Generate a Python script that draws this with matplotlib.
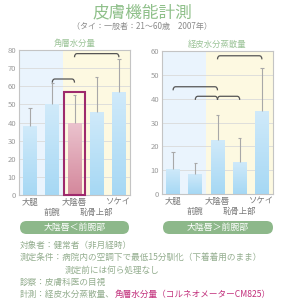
import matplotlib
matplotlib.use("Agg")
import matplotlib.pyplot as plt
import numpy as np
from matplotlib.patches import FancyBboxPatch, Rectangle, PathPatch
from matplotlib.path import Path

plt.rcParams['font.family'] = ['Noto Sans CJK JP', 'DejaVu Sans']

# ---- data ----
sites = ['大腿', '前腕', '大陰唇', '恥骨上部', 'ソケイ']
water_mean = [38, 50, 40, 46, 57]
water_upper = [48, 62, 55, 65, 75]
tewl_mean = [10.5, 8.5, 22.5, 13.5, 35]
tewl_upper = [17.5, 13, 33, 23.5, 53]
water_brackets = [(1, 2, 64), (2, 4, 78)]
tewl_brackets = [(0, 2, 45), (1, 2, 41), (2, 3, 41), (2, 4, 58)]
water_ticks = [0, 10, 20, 30, 40, 50, 60, 70, 80]
tewl_ticks = [0, 10, 20, 30, 40, 50, 60]
highlight = 2

W, H = 283, 300
fig = plt.figure(figsize=(W / 100, H / 100), dpi=100)
fig.patch.set_facecolor('white')

# overlay axes in pixel coordinates
bg = fig.add_axes([0, 0, 1, 1], zorder=-1)
bg.set_xlim(0, W)
bg.set_ylim(H, 0)
bg.axis('off')

def px_axes(x0, y0, x1, y1):
    return fig.add_axes([x0 / W, 1 - y1 / H, (x1 - x0) / W, (y1 - y0) / H])

green = '#8db88a'
textgreen = '#93ad8e'
gray = '#9a9a9a'

ramp = np.linspace(0, 1, 64)
def grad_img(top, bottom):
    t = np.array(matplotlib.colors.to_rgb(top))
    b = np.array(matplotlib.colors.to_rgb(bottom))
    arr = t[None, :] * (1 - ramp[:, None]) + b[None, :] * ramp[:, None]
    return arr[:, None, :]

def draw_chart(ax, means, uppers, ticks, brackets, title, hl=None):
    n = len(means)
    x = np.arange(n)
    ymax = ticks[-1]
    ax.axvspan(-0.5, 1.5, color='#eaf4fd', zorder=0, lw=0)
    ax.axvspan(1.5, n - 0.5, color='#fdf9e1', zorder=0, lw=0)
    for t in ticks[1:-1]:
        ax.axhline(t, color='#dadada', lw=0.6, zorder=1)
    bars = ax.bar(x, means, width=0.62, color='none', zorder=2, lw=0)
    for i, p in enumerate(bars):
        x0, y0 = p.get_x(), p.get_y()
        w, h = p.get_width(), p.get_height()
        if i == hl:
            img = grad_img('#ebc3ce', '#d4889c')
        else:
            img = grad_img('#d0eafa', '#a6d8f4')
        im = ax.imshow(img, extent=[x0, x0 + w, y0, y0 + h], aspect='auto',
                       zorder=2, origin='upper', interpolation='bilinear')
        im.set_clip_path(p)
    ax.set_xlim(-0.5, n - 0.5)
    ax.set_ylim(0, ymax)
    ax.vlines(x, means, uppers, color='#a8a8a8', lw=0.8, zorder=3)
    ax.hlines(uppers, x - 0.08, x + 0.08, color='#a8a8a8', lw=0.8, zorder=3)
    dy = ymax * 0.025
    dx = 0.12
    for i, j, yb in brackets:
        verts = [(i, yb - dy), (i, yb), (i + dx, yb), (j - dx, yb), (j, yb), (j, yb - dy)]
        codes = [Path.MOVETO, Path.CURVE3, Path.CURVE3, Path.LINETO, Path.CURVE3, Path.CURVE3]
        ax.add_patch(PathPatch(Path(verts, codes), fc='none', ec='#555555', lw=0.9, zorder=4))
    if hl is not None:
        ax.add_patch(Rectangle((hl - 0.48, 0), 0.96, uppers[hl] + 2, fill=False,
                               ec='#9e2a6c', lw=1.5, zorder=5, clip_on=False))
    ax.set_yticks(ticks)
    ax.set_yticklabels([str(t) for t in ticks], fontsize=5.5, color=gray)
    ax.set_xticks(x[0::2])
    ax.set_xticklabels(sites[0::2], fontsize=6, color='#777777')
    ax.set_xticks(x[1::2], minor=True)
    ax.set_xticklabels(sites[1::2], minor=True, fontsize=6, color='#777777')
    ax.tick_params(which='major', length=0, pad=2)
    ax.tick_params(which='minor', length=0, pad=9)
    ax.tick_params(axis='y', length=0, pad=2)
    for s in ax.spines.values():
        s.set_color('#c4c4c4')
        s.set_linewidth(0.8)
    ax.set_title(title, fontsize=6, color='#9cc498', pad=3)

ax1 = px_axes(19, 50, 130, 195)
draw_chart(ax1, water_mean, water_upper, water_ticks, water_brackets, '角層水分量', hl=highlight)
ax2 = px_axes(162, 51, 273, 194)
draw_chart(ax2, tewl_mean, tewl_upper, tewl_ticks, tewl_brackets, '経皮水分蒸散量')

bg.text(142, 13, '皮膚機能計測', ha='center', va='center', fontsize=12, color='#8fc08a')
bg.text(142, 26, '（タイ：一般者：21〜60歳　2007年）', ha='center', va='center',
        fontsize=5.8, color='#8a8a8a')

for (x0, x1, label) in [(20, 129, '大陰唇＜前腕部'), (163, 273, '大陰唇＞前腕部')]:
    y0, y1 = 221, 234
    r = (y1 - y0) / 2
    pill = FancyBboxPatch((x0, y0), (x1 - x0), (y1 - y0),
                          boxstyle=f"round,pad=0,rounding_size={r}",
                          fc=green, ec='none')
    bg.add_patch(pill)
    fig.text((x0 + x1) / 2 / W, 1 - (y0 + y1) / 2 / H, label, ha='center', va='center',
             fontsize=6.4, color='white')

lines = [
    (20, 245, '対象者：健常者（非月経時）'),
    (20, 257, '測定条件：病院内の空調下で最低15分馴化（下着着用のまま）'),
    (65, 270, '測定前には何ら処理なし'),
    (20, 282, '診察：皮膚科医の目視'),
]
for x, y, s in lines:
    fig.text(x / W, 1 - y / H, s, ha='left', va='center', fontsize=6.2, color=textgreen)
t = fig.text(20 / W, 1 - 294 / H, '計測：経皮水分蒸散量、', ha='left', va='center',
             fontsize=6.2, color=textgreen)
fig.canvas.draw()
bb = t.get_window_extent()
fig.text(bb.x1 / fig.bbox.width, 1 - 294 / H, '角層水分量（コルネオメーターCM825）',
         ha='left', va='center', fontsize=6.2, color='#c2307c')

fig.savefig('out.png', dpi=100)
